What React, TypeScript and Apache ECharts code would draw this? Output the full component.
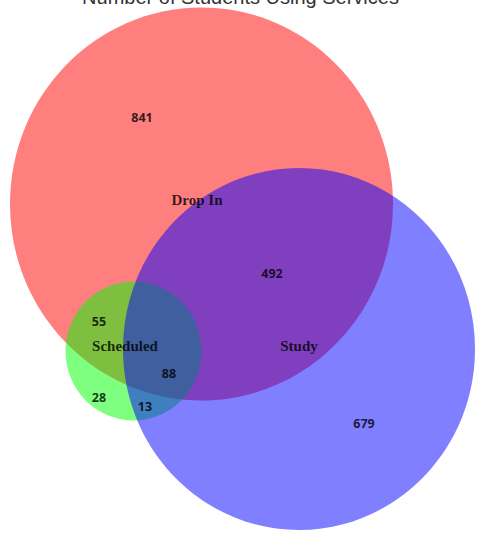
import React, { useEffect, useRef } from "react";
import * as echarts from "echarts";

// ---- data ----
const chartTitle = "Number of Students Using Services";
const setNames = ["Drop In", "Scheduled", "Study"];
const regionNames = [
  "Drop In only",
  "Drop In & Study",
  "Drop In & Scheduled",
  "Drop In & Scheduled & Study",
  "Scheduled only",
  "Scheduled & Study",
  "Study only",
];
const regionCounts = [841, 492, 55, 88, 28, 13, 679];

// ---- layout (plot units = pixels of a 481 x 533 frame) ----
const circleCx = [201.5, 133.5, 299];
const circleCy = [204, 351, 349];
const circleRx = [191.5, 68, 176];
const circleRy = [196.5, 69.5, 181];
const setLabelX = [197, 125, 299];
const setLabelY = [200, 346, 346];
const countLabelX = [142, 272, 99, 169, 99, 145, 364];
const countLabelY = [117, 273, 321, 373, 397, 406, 423];

const fills = ["rgba(255,0,0,0.5)", "rgba(0,255,0,0.5)", "rgba(0,0,255,0.5)"];
const textFill = "rgba(0,0,0,0.8)";

export default function App() {
  const ref = useRef<HTMLDivElement>(null);
  useEffect(() => {
    if (!ref.current) return;
    const chart = echarts.init(ref.current, undefined, { renderer: "svg" });
    const circles = setNames.map((n, i) => ({
      name: n,
      value: [circleCx[i], circleCy[i], circleRx[i] * 2, circleRy[i] * 2],
    }));
    const setLabels = setNames.map((n, i) => ({
      name: n,
      value: [setLabelX[i], setLabelY[i]],
    }));
    const countLabels = regionCounts.map((c, i) => ({
      name: regionNames[i],
      value: [countLabelX[i], countLabelY[i], c],
    }));
    chart.setOption({
      animation: false,
      title: {
        text: chartTitle,
        left: "center",
        top: -13,
        padding: 0,
        textStyle: {
          fontSize: 20,
          fontWeight: "normal",
          color: "#333",
          fontFamily: "Liberation Sans, Arial, sans-serif",
        },
      },
      grid: { left: 0, right: 0, top: 0, bottom: 0 },
      xAxis: { type: "value", min: 0, max: 481, show: false },
      yAxis: { type: "value", min: 0, max: 533, inverse: true, show: false },
      series: [
        {
          type: "custom",
          name: "sets",
          data: circles,
          renderItem: (params: any, api: any) => {
            const c = api.coord([api.value(0), api.value(1)]);
            const s = api.size([api.value(2), api.value(3)], [api.value(0), api.value(1)]);
            return {
              type: "ellipse",
              shape: { cx: c[0], cy: c[1], rx: s[0] / 2, ry: s[1] / 2 },
              style: { fill: fills[params.dataIndex], stroke: "none" },
            };
          },
        },
        {
          type: "custom",
          name: "setLabels",
          data: setLabels,
          renderItem: (params: any, api: any) => {
            const c = api.coord([api.value(0), api.value(1)]);
            return {
              type: "text",
              x: c[0],
              y: c[1],
              style: {
                text: setNames[params.dataIndex],
                font: "bold 15px 'Liberation Serif', 'Times New Roman', serif",
                fill: textFill,
                align: "center",
                verticalAlign: "middle",
              },
            };
          },
        },
        {
          type: "custom",
          name: "counts",
          data: countLabels,
          renderItem: (params: any, api: any) => {
            const c = api.coord([api.value(0), api.value(1)]);
            return {
              type: "text",
              x: c[0],
              y: c[1],
              style: {
                text: String(api.value(2)),
                font: "bold 12.5px 'Open Sans', sans-serif",
                fill: textFill,
                align: "center",
                verticalAlign: "middle",
              },
            };
          },
        },
      ],
    });
    return () => chart.dispose();
  }, []);
  return (
    <div
      ref={ref}
      style={{ position: "absolute", left: 0, top: 0, width: 481, height: 533 }}
    />
  );
}
